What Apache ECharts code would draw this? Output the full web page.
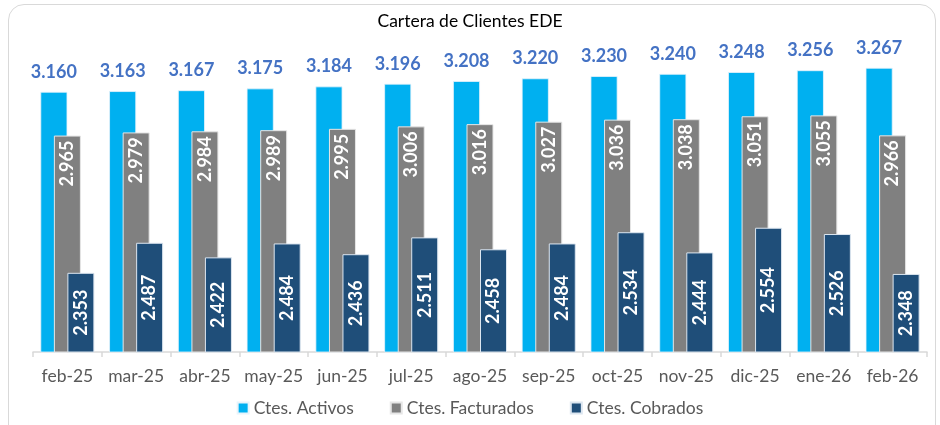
<!DOCTYPE html>
<html>
<head>
<meta charset="utf-8">
<script src="https://cdn.jsdelivr.net/npm/echarts@6/dist/echarts.min.js"></script>
<style>
  html, body { margin: 0; padding: 0; background: #fff; overflow: hidden; }
  #frame {
    position: absolute; left: 8px; top: 4px; width: 928px; height: 440px;
    border: 1.5px solid #d9d9d9; border-radius: 16px; box-sizing: border-box;
  }
  #chart { position: absolute; left: 0; top: 0; width: 940px; height: 425px; }
</style>
</head>
<body>
<div id="frame"></div>
<div id="chart"></div>
<script>
// Cartera de Clientes EDE
var months = ['feb-25', 'mar-25', 'abr-25', 'may-25', 'jun-25', 'jul-25', 'ago-25',
              'sep-25', 'oct-25', 'nov-25', 'dic-25', 'ene-26', 'feb-26'];
var activos = [3160, 3163, 3167, 3175, 3184, 3196, 3208, 3220, 3230, 3240, 3248, 3256, 3267];
var facturados = [2965, 2979, 2984, 2989, 2995, 3006, 3016, 3027, 3036, 3038, 3051, 3055, 2966];
var cobrados = [2353, 2487, 2422, 2484, 2436, 2511, 2458, 2484, 2534, 2444, 2554, 2526, 2348];

function fmt(v) {
    var s = String(v);
    return s.slice(0, s.length - 3) + '.' + s.slice(-3);
}

var font = 'Lato, "Open Sans", sans-serif';
var chart = echarts.init(document.getElementById('chart'));
var option = {
    animation: false,
    title: {
        text: 'Cartera de Clientes EDE',
        left: 'center',
        top: 7,
        textStyle: { fontFamily: font, fontSize: 17.5, fontWeight: 'normal', color: '#000' }
    },
    legend: {
        bottom: 3,
        left: 'center',
        itemWidth: 11,
        itemHeight: 11,
        itemGap: 36,
        icon: 'rect',
        textStyle: { fontFamily: font, fontSize: 17.5, color: '#595959' },
        data: ['Ctes. Activos', 'Ctes. Facturados', 'Ctes. Cobrados']
    },
    grid: { left: 33, right: 13, top: 38, bottom: 73 },
    xAxis: {
        type: 'category',
        data: months,
        axisLine: { lineStyle: { color: '#d9d9d9', width: 1.5 } },
        axisTick: { show: true, interval: 0, length: 5, lineStyle: { color: '#d9d9d9', width: 1.5 } },
        axisLabel: { interval: 0, hideOverlap: false, fontFamily: font, fontSize: 17.5, color: '#595959', margin: 15 }
    },
    yAxis: {
        type: 'value',
        min: 2000,
        max: 3400,
        show: false,
        splitLine: { show: false }
    },
    series: [{
        name: 'Ctes. Activos',
        type: 'bar',
        data: activos,
        barWidth: 27,
        barGap: '-50%',
        itemStyle: { color: '#00B0F0', borderColor: '#e8f4fb', borderWidth: 0.8 },
        label: {
            show: true,
            position: 'top',
            distance: 11,
            formatter: function (p) { return fmt(p.value); },
            fontFamily: font, fontSize: 18, fontWeight: 'bold', color: '#4472C4'
        }
    }, {
        name: 'Ctes. Facturados',
        type: 'bar',
        data: facturados,
        barWidth: 27,
        barGap: '-50%',
        itemStyle: { color: '#808080', borderColor: '#e6e6e6', borderWidth: 1 },
        label: {
            show: true,
            position: 'insideTop',
            rotate: 90,
            align: 'right',
            verticalAlign: 'middle',
            distance: 5,
            formatter: function (p) { return fmt(p.value); },
            fontFamily: font, fontSize: 18, fontWeight: 'bold', color: '#fff'
        }
    }, {
        name: 'Ctes. Cobrados',
        type: 'bar',
        data: cobrados,
        barWidth: 27,
        barGap: '-50%',
        itemStyle: { color: '#1F4E79', borderColor: '#dce6f0', borderWidth: 1 },
        label: {
            show: true,
            position: 'inside',
            rotate: 90,
            formatter: function (p) { return fmt(p.value); },
            fontFamily: font, fontSize: 18, fontWeight: 'bold', color: '#fff'
        }
    }]
};
chart.setOption(option);
</script>
</body>
</html>
